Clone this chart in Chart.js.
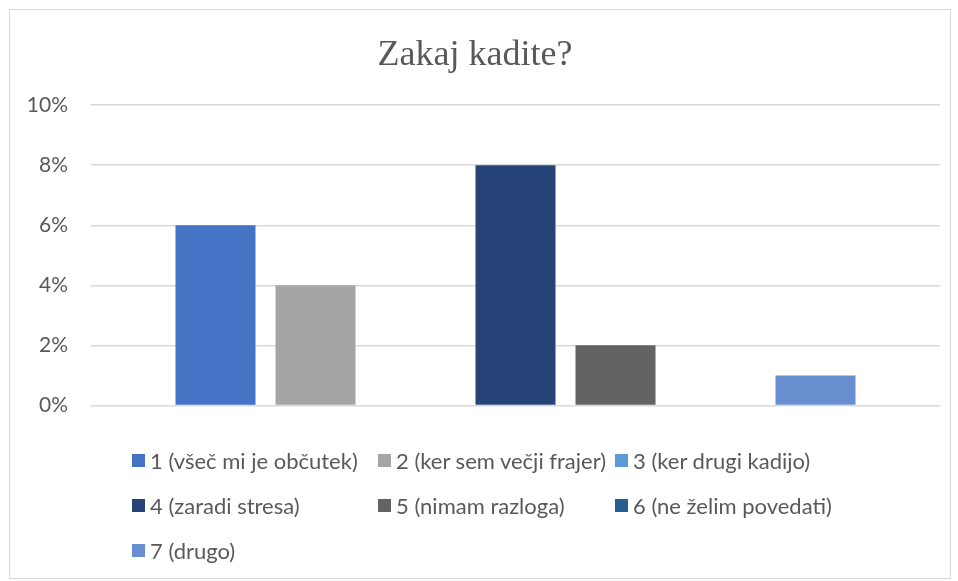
<!DOCTYPE html>
<html>
<head>
<meta charset="utf-8">
<script src="https://cdn.jsdelivr.net/npm/chart.js@4.4.0/dist/chart.umd.min.js"></script>
<style>
  body { margin: 0; background: #fff; font-family: Lato, sans-serif; }
  #box { position: absolute; left: 9px; top: 9px; width: 940px; height: 568px; border: 1px solid #d9d9d9; background: #fff; }
  #wrap { position: absolute; left: 0; top: 0; width: 940px; height: 431px; }
  #legend { position: absolute; left: 122px; top: 428px; display: grid; grid-template-columns: 246px 237px auto; grid-auto-rows: 45px; color: #595959; font-size: 22px; }
  #legend div { display: flex; align-items: center; white-space: nowrap; }
  #legend span.sw { display: inline-block; width: 13px; height: 13px; margin-right: 5px; }
</style>
</head>
<body>
<div id="box">
  <div id="wrap"><canvas id="myChart"></canvas></div>
  <div id="legend"></div>
</div>
<script>
// Podatki
const kategorije = [''];
const serije = ['1 (všeč mi je občutek)', '2 (ker sem večji frajer)', '3 (ker drugi kadijo)',
                '4 (zaradi stresa)', '5 (nimam razloga)', '6 (ne želim povedati)', '7 (drugo)'];
const vrednosti = [6, 4, 0, 8, 2, 0, 1]; // v %
const barve = ['#4472C4', '#A5A5A5', '#5B9BD5', '#264478', '#636363', '#255E91', '#698ED0'];
const yTicks = [0, 2, 4, 6, 8, 10];

const ctx = document.getElementById('myChart').getContext('2d');
const chart = new Chart(ctx, {
    type: 'bar',
    data: {
        labels: kategorije,
        datasets: serije.map(function(ime, i) {
            return {
                label: ime,
                data: [vrednosti[i]],
                backgroundColor: barve[i],
                borderWidth: 0,
                categoryPercentage: 0.8245,
                barPercentage: 0.8
            };
        })
    },
    options: {
        responsive: true,
        maintainAspectRatio: false,
        animation: false,
        layout: { padding: { left: 0, right: 10, top: 0, bottom: 6 } },
        plugins: {
            legend: { display: false },
            tooltip: { enabled: false },
            title: {
                display: true,
                text: 'Zakaj kadite?',
                color: '#595959',
                font: { family: '"Liberation Serif", "Times New Roman", serif', size: 36, weight: 'normal' },
                padding: { top: 24, bottom: 28 }
            }
        },
        scales: {
            x: {
                grid: { display: false },
                border: { display: false },
                ticks: { display: false }
            },
            y: {
                min: 0,
                max: 10,
                afterFit: function(scale) { scale.width = 81; },
                afterBuildTicks: function(scale) {
                    scale.ticks = yTicks.map(function(v) { return { value: v }; });
                },
                grid: { color: '#d9d9d9', lineWidth: 1.5, drawTicks: false },
                border: { display: false },
                ticks: {
                    color: '#595959',
                    padding: 23,
                    font: { family: 'Lato, sans-serif', size: 21 },
                    callback: function(value) { return value + '%'; }
                }
            }
        }
    }
});

// Legenda (HTML, razporejena v stolpce kot v izvirniku)
const legenda = document.getElementById('legend');
chart.data.datasets.forEach(function(ds) {
    const el = document.createElement('div');
    el.innerHTML = '<span class="sw" style="background:' + ds.backgroundColor + '"></span>' + ds.label;
    legenda.appendChild(el);
});
</script>
</body>
</html>
